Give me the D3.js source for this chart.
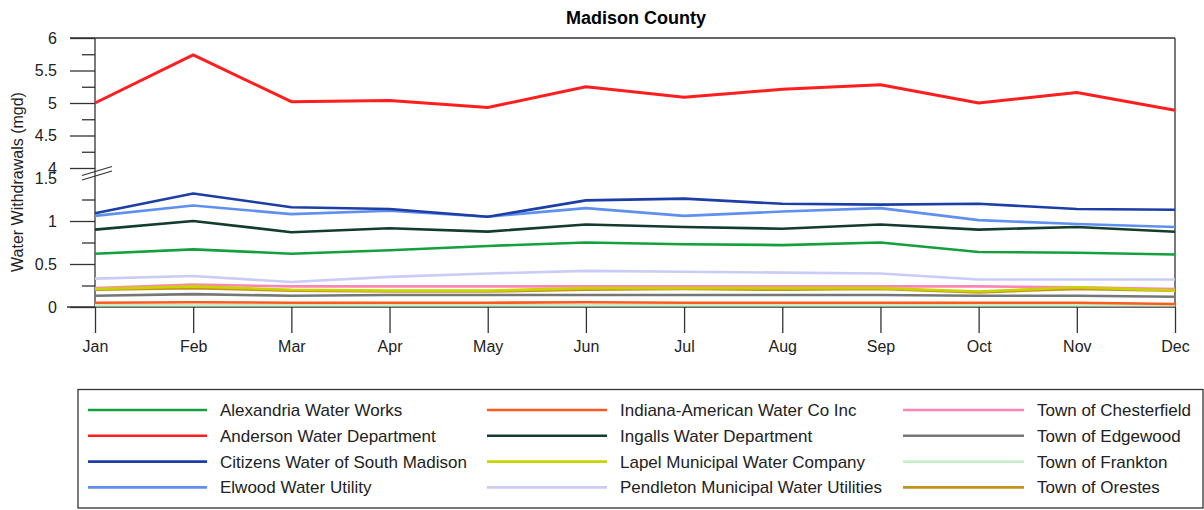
<!DOCTYPE html>
<html><head><meta charset="utf-8">
<script src="https://cdn.jsdelivr.net/npm/d3@7"></script>
<style>body{margin:0;background:#fff}svg{display:block;font-family:"Liberation Sans",Arial,sans-serif}</style>
</head><body><svg id="c" width="1204" height="510"></svg>
<script>
const months = ["Jan","Feb","Mar","Apr","May","Jun","Jul","Aug","Sep","Oct","Nov","Dec"];
const seriesNames = ["Alexandria Water Works","Anderson Water Department","Citizens Water of South Madison","Elwood Water Utility",
  "Indiana-American Water Co Inc","Ingalls Water Department","Lapel Municipal Water Company","Pendleton Municipal Water Utilities",
  "Town of Chesterfield","Town of Edgewood","Town of Frankton","Town of Orestes"];
const seriesColors = ["#14a03c","#ff1e1e","#1c3ea6","#5f90f0","#ff5a1e","#143c2c","#c8d400","#cbcbf8","#ff86b4","#767676","#c8f0c8","#c4921e"];
const alexandria   = [0.62,0.67,0.62,0.66,0.71,0.75,0.73,0.72,0.75,0.64,0.63,0.61];
const anderson     = [5.00,5.74,5.02,5.04,4.93,5.25,5.09,5.21,5.28,5.00,5.16,4.89];
const citizens     = [1.09,1.32,1.16,1.14,1.05,1.24,1.26,1.20,1.19,1.20,1.14,1.13];
const elwood       = [1.06,1.18,1.08,1.12,1.05,1.15,1.06,1.11,1.15,1.01,0.965,0.93];
const indianaAm    = [0.05,0.055,0.05,0.05,0.05,0.055,0.05,0.05,0.05,0.05,0.05,0.035];
const ingalls      = [0.90,1.00,0.87,0.915,0.876,0.96,0.93,0.91,0.96,0.90,0.93,0.875];
const lapel        = [0.21,0.24,0.20,0.19,0.19,0.22,0.22,0.22,0.22,0.18,0.23,0.19];
const pendleton    = [0.33,0.36,0.29,0.35,0.39,0.42,0.41,0.40,0.39,0.32,0.32,0.32];
const chesterfield = [0.22,0.26,0.24,0.24,0.24,0.24,0.24,0.24,0.24,0.24,0.23,0.21];
const edgewood     = [0.13,0.15,0.13,0.14,0.14,0.14,0.14,0.14,0.14,0.13,0.13,0.12];
const frankton     = [0.02,0.02,0.02,0.02,0.02,0.02,0.02,0.02,0.02,0.02,0.02,0.02];
const orestes      = [0.20,0.22,0.19,0.18,0.18,0.20,0.21,0.20,0.21,0.17,0.21,0.19];
const seriesValues = [alexandria,anderson,citizens,elwood,indianaAm,ingalls,lapel,pendleton,chesterfield,edgewood,frankton,orestes];
const upperTicks = [4,4.5,5,5.5,6];
const upperMinor = [4.25,4.75,5.25,5.75];
const lowerTicks = [0,0.5,1,1.5];
const lowerMinor = [0.25,0.75,1.25];

const svg = d3.select("#c");
const F = 16;
const x = d3.scalePoint().domain(months).range([95,1175]);
const yTop = d3.scaleLinear().domain([4,6]).range([168,38]);
const yBot = d3.scaleLinear().domain([0,1.5]).range([307,178]);
const yMap = v => v > 2.5 ? yTop(v) : yBot(v);

// title
svg.append("text").attr("x",636).attr("y",24).attr("text-anchor","middle")
  .attr("font-size",18).attr("font-weight","bold").attr("fill","#000").text("Madison County");

// frame
const frame = svg.append("g").attr("stroke","#333").attr("stroke-width",1.3);
frame.append("line").attr("x1",70).attr("x2",1175).attr("y1",38).attr("y2",38);
frame.append("line").attr("x1",1175).attr("x2",1175).attr("y1",38).attr("y2",307);
frame.append("line").attr("x1",67).attr("x2",1175).attr("y1",307).attr("y2",307);
frame.append("line").attr("x1",95).attr("x2",95).attr("y1",38).attr("y2",307);

function styleAxis(g){
  g.select(".domain").remove();
  g.selectAll(".tick line").attr("stroke","#333").attr("stroke-width",1.3);
  g.selectAll(".tick text").attr("font-size",F).attr("fill","#222").attr("font-family","Liberation Sans, Arial, sans-serif");
}
svg.append("g").attr("transform","translate(95,0)")
  .call(d3.axisLeft(yTop).tickValues(upperTicks).tickSize(25).tickPadding(13).tickFormat(d3.format("~g"))).call(styleAxis);
svg.append("g").attr("transform","translate(95,0)")
  .call(d3.axisLeft(yTop).tickValues(upperMinor).tickSize(13).tickFormat("")).call(styleAxis);
svg.append("g").attr("transform","translate(95,0)")
  .call(d3.axisLeft(yBot).tickValues(lowerTicks).tickSize(25).tickPadding(13).tickFormat(d3.format("~g"))).call(styleAxis);
svg.append("g").attr("transform","translate(95,0)")
  .call(d3.axisLeft(yBot).tickValues(lowerMinor).tickSize(13).tickFormat("")).call(styleAxis);
svg.selectAll(".tick").filter(d => d===1.5).select("line").remove();

// break marks
const br = svg.append("g").attr("stroke","#333").attr("stroke-width",1.2);
br.append("line").attr("x1",82).attr("y1",180).attr("x2",112).attr("y2",171);
br.append("line").attr("x1",82).attr("y1",175.5).attr("x2",112).attr("y2",166.5);

// x axis
svg.append("g").attr("transform","translate(0,307)")
  .call(d3.axisBottom(x).tickSize(26).tickPadding(8)).call(styleAxis);

// y label
svg.append("text").attr("transform","translate(23,182) rotate(-90)").attr("text-anchor","middle")
  .attr("font-size",F).attr("fill","#222").text("Water Withdrawals (mgd)");

// lines
const line = d3.line().x((d,i)=>x(months[i])).y(d=>yMap(d));
const order = d3.range(seriesNames.length).reverse();
svg.append("g").selectAll("path").data(order).join("path")
  .attr("d", i => line(seriesValues[i]))
  .attr("fill","none").attr("stroke", i => seriesColors[i])
  .attr("stroke-width", i => i===1 ? 3 : 2.6).attr("stroke-linejoin","round");

// legend
svg.append("rect").attr("x",78).attr("y",389.5).attr("width",1125).attr("height",118.5)
  .attr("fill","none").attr("stroke","#333").attr("stroke-width",1.3);
const colX = [88,487,903];
const colW = [119,120,121];
const lg = svg.append("g").selectAll("g").data(seriesNames).join("g")
  .attr("transform",(d,i)=>`translate(${colX[Math.floor(i/4)]},${410 + (i%4)*25.8})`);
lg.append("line").attr("x1",0).attr("x2",(d,i)=>colW[Math.floor(i/4)]).attr("y1",0).attr("y2",0)
  .attr("stroke",(d,i)=>seriesColors[i]).attr("stroke-width",2.6);
lg.append("text").attr("x",(d,i)=>colW[Math.floor(i/4)]+13).attr("y",6)
  .attr("font-size",17).attr("fill","#222").text(d=>d);
</script></body></html>
